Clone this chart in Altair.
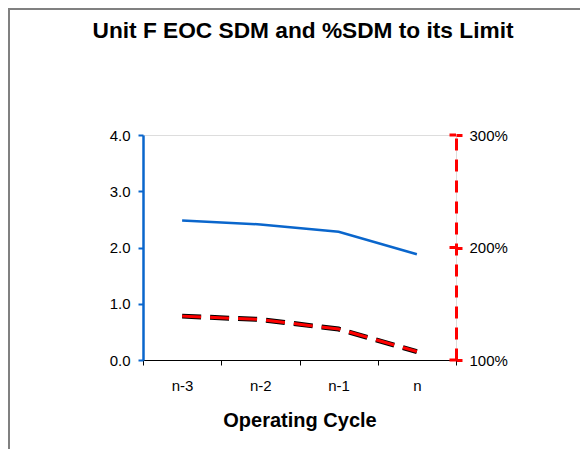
import altair as alt
import pandas as pd

title_text = ["Unit F EOC SDM and %SDM to its Limit"]
cycles = ["n-3", "n-2", "n-1", "n"]
sdm = [2.48, 2.41, 2.28, 1.88]
pct_sdm = [1.39, 1.36, 1.275, 1.075]
right_ticks = [1.0, 2.0, 3.0]
left_ticks = [0, 1, 2, 3, 4]

FONT = "Liberation Sans"
BLUE = "#0A66CC"
RED = "#FF0000"
W, H = 313, 225

df = pd.DataFrame({"cycle": cycles, "sdm": sdm, "pct": pct_sdm})
ticks_df = pd.DataFrame({"t": right_ticks})
one = pd.DataFrame({"a": [0]})
title_df = pd.DataFrame({"title": title_text})

x_enc = alt.X(
    "cycle:N", sort=cycles,
    scale=alt.Scale(paddingInner=0, paddingOuter=0),
    axis=alt.Axis(
        title="Operating Cycle", labelAngle=0, tickBand="extent",
        domainColor="#000000", domainWidth=1, tickColor="#000000", tickSize=5,
        labelFont=FONT, labelFontSize=15, labelColor="#000000", labelPadding=13,
        titleFont=FONT, titleFontSize=20, titleFontWeight="bold", titleColor="#000000",
        titlePadding=17,
    ),
)

base = alt.Chart(df)

blue = base.mark_line(color=BLUE, strokeWidth=2.5).encode(
    x=x_enc,
    y=alt.Y(
        "sdm:Q", scale=alt.Scale(domain=[0, 4], nice=False, zero=False),
        axis=alt.Axis(
            orient="left", title=None, values=left_ticks, format=".1f", grid=False,
            domainColor=BLUE, domainWidth=2.5, tickColor=BLUE, tickWidth=2, tickSize=5,
            labelFont=FONT, labelFontSize=15, labelColor="#000000", labelPadding=8,
        ),
    ),
)

pct_scale = alt.Scale(domain=[1, 3], nice=False, zero=False)

dash_black = base.mark_line(color="#000000", strokeWidth=5, strokeDash=[19, 9]).encode(
    x=x_enc,
    y=alt.Y(
        "pct:Q", scale=pct_scale,
        axis=alt.Axis(
            orient="right", title=None, values=right_ticks, format=".0%", grid=False,
            domainColor=RED, domainWidth=3, domainDash=[12, 9],
            tickColor=RED, tickWidth=3, tickSize=6,
            labelFont=FONT, labelFontSize=15, labelColor="#000000", labelPadding=7,
        ),
    ),
)

dash_red = base.mark_line(color=RED, strokeWidth=3, strokeDash=[19, 9]).encode(
    x=x_enc,
    y=alt.Y("pct:Q", scale=pct_scale, axis=None),
)

inner_ticks = alt.Chart(ticks_df).mark_rule(color=RED, strokeWidth=3).encode(
    y=alt.Y("t:Q", scale=pct_scale, axis=None),
    x=alt.value(W - 6.5),
    x2=alt.value(W),
)

border_left = alt.Chart(one).mark_rule(color="#808080", strokeWidth=2).encode(
    x=alt.value(-134), y=alt.value(-127), y2=alt.value(600)
)
border_top = alt.Chart(one).mark_rule(color="#808080", strokeWidth=2).encode(
    y=alt.value(-126), x=alt.value(-135), x2=alt.value(600)
)

title_mark = alt.Chart(title_df).mark_text(
    font=FONT, fontSize=22.7, fontWeight="bold", color="#000000",
    align="center", baseline="alphabetic",
).encode(text="title:N", x=alt.value(160), y=alt.value(-97))

chart = alt.layer(
    blue, dash_black, dash_red, inner_ticks, border_left, border_top, title_mark
).resolve_scale(y="independent").properties(
    width=W, height=H,
    autosize=alt.AutoSizeParams(type="none"),
    padding={"left": 135, "top": 127, "right": 124, "bottom": 89},
).configure_view(stroke=None).configure(background="white")

chart.save("out.html", embed_options={"renderer": "svg", "actions": False})
